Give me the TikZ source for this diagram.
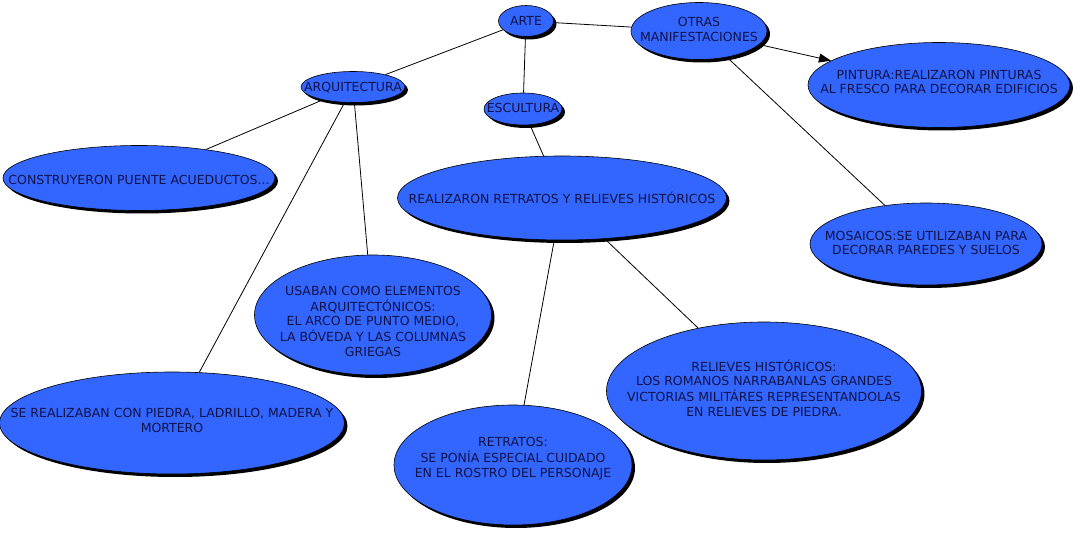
\documentclass[tikz,border=0pt]{standalone}
\usepackage{fontspec}
\setmainfont{DejaVu Sans}
\usepackage{tikz}
\usetikzlibrary{arrows.meta, shapes.geometric, shadows}
\definecolor{bubblue}{RGB}{51,102,255}
\definecolor{bubtext}{RGB}{18,18,70}

% text set on top of an ellipse of fixed size (optional arg: raise)
\newcommand{\lbl}[2][0pt]{\smash{\raisebox{\dimexpr-4.8pt+#1\relax}{\makebox[0pt]{\begin{tabular}{@{}c@{}}#2\end{tabular}}}}}

\begin{document}
\begin{tikzpicture}[
  x=1pt, y=-1pt,
  bubble/.style={ellipse, draw=black, line width=0.6pt, fill=bubblue, inner sep=0pt,
    text=bubtext, font=\fontsize{12.5}{14.5}\selectfont,
    drop shadow={shadow xshift=3pt, shadow yshift=-3pt, opacity=1, fill=black}},
  link/.style={line width=0.8pt},
  arr/.style={link, -{Triangle[length=12pt, width=9pt]}}
]
\useasboundingbox (0,0) rectangle (1077,534);

% Top level
\node[bubble, minimum width=55pt, minimum height=31pt] (arte) at (526,21) {\lbl{ARTE}};
\node[bubble, minimum width=136pt, minimum height=57pt] (otr) at (699,31) {\lbl[1.5pt]{OTRAS\\MANIFESTACIONES}};
\node[bubble, minimum width=104pt, minimum height=31pt] (arq) at (353,87) {\lbl{ARQUITECTURA}};
\node[bubble, minimum width=78pt, minimum height=32pt] (esc) at (523,109) {\lbl[1.5pt]{ESCULTURA}};

% Otras manifestaciones
\node[bubble, minimum width=262pt, minimum height=85pt] (pin) at (939,85) {\lbl[3pt]{PINTURA:REALIZARON PINTURAS\\AL FRESCO PARA DECORAR EDIFICIOS}};
\node[bubble, minimum width=232pt, minimum height=82pt] (mos) at (926,244) {\lbl[1pt]{MOSAICOS:SE UTILIZABAN PARA\\DECORAR PAREDES Y SUELOS}};

% Arquitectura
\node[bubble, minimum width=272pt, minimum height=65pt] (cons) at (139,178) {\lbl[-2pt]{CONSTRUYERON PUENTE ACUEDUCTOS...}};
\node[bubble, minimum width=237pt, minimum height=120pt] (usa) at (373,315) {\lbl[-6pt]{USABAN COMO ELEMENTOS\\ARQUITECTÓNICOS:\\EL ARCO DE PUNTO MEDIO,\\LA BÓVEDA Y LAS COLUMNAS\\GRIEGAS}};
\node[bubble, minimum width=345pt, minimum height=102pt] (mat) at (172,423) {\lbl[2.5pt]{SE REALIZABAN CON PIEDRA, LADRILLO, MADERA Y\\MORTERO}};

% Escultura
\node[bubble, minimum width=329pt, minimum height=84pt] (rea) at (562,198) {\lbl{REALIZARON RETRATOS Y RELIEVES HISTÓRICOS}};
\node[bubble, minimum width=238pt, minimum height=120pt] (ret) at (513,465) {\lbl[7.5pt]{RETRATOS:\\SE PONÍA ESPECIAL CUIDADO\\EN EL ROSTRO DEL PERSONAJE}};
\node[bubble, minimum width=315pt, minimum height=138pt] (rel) at (764,391) {\lbl[2.5pt]{RELIEVES HISTÓRICOS:\\LOS ROMANOS NARRABANLAS GRANDES\\VICTORIAS MILITÁRES REPRESENTANDOLAS\\EN RELIEVES DE PIEDRA.}};

% Connectors
\draw[link] (arte) -- (arq);
\draw[link] (arte) -- (esc);
\draw[link] (arte) -- (otr);
\draw[arr] (otr) -- (pin);
\draw[link] (otr) -- (mos);
\draw[link] (arq) -- (cons);
\draw[link] (arq) -- (usa);
\draw[link] (arq) -- (mat);
\draw[link] (esc) -- (rea);
\draw[link] (rea) -- (ret);
\draw[link] (rea) -- (rel);

\end{tikzpicture}
\end{document}
